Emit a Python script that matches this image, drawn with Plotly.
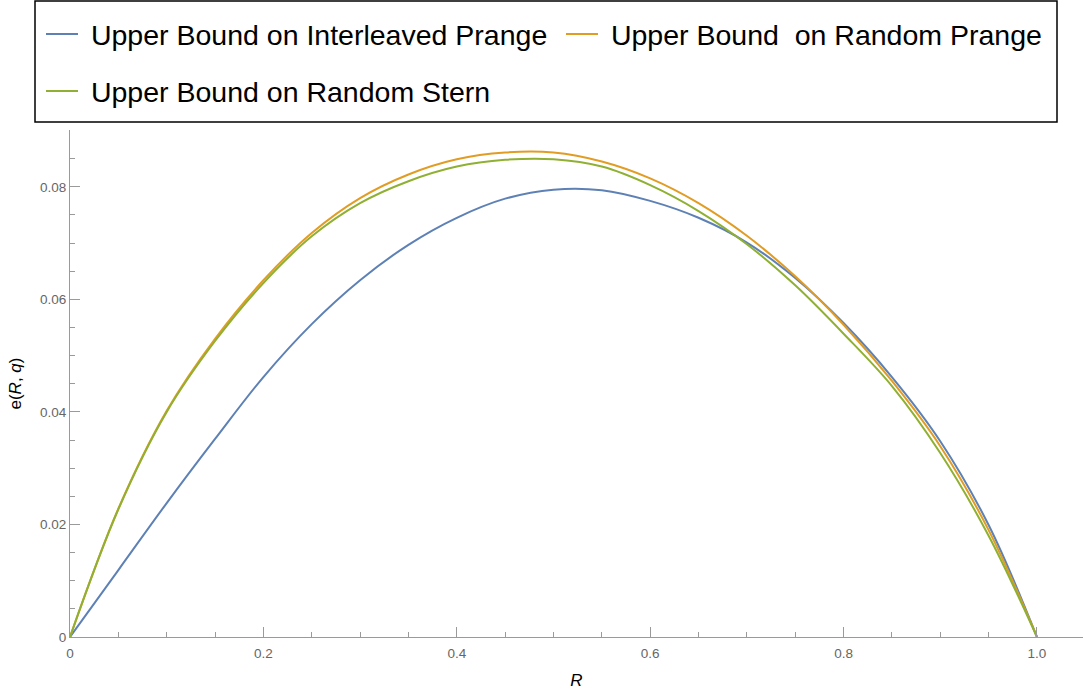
import plotly.graph_objects as go

# ---- data ----
R = [0, 0.05, 0.1, 0.15, 0.2, 0.25, 0.3, 0.35, 0.4, 0.45, 0.5, 0.55,
     0.6, 0.65, 0.7, 0.75, 0.8, 0.85, 0.9, 0.95, 1.0]
interleaved_prange = [0, 0.0119, 0.0238, 0.0352, 0.0462, 0.0556, 0.0634, 0.0697,
                      0.0745, 0.0779, 0.0795, 0.0794, 0.0775, 0.0745, 0.0701,
                      0.0638, 0.0558, 0.0462, 0.0348, 0.0199, 0]
random_prange = [0, 0.0228, 0.0402, 0.0530, 0.0634, 0.0718, 0.0780, 0.0822,
                 0.0849, 0.0861, 0.0861, 0.0845, 0.0815, 0.0771, 0.0713,
                 0.0641, 0.0555, 0.0455, 0.0339, 0.0190, 0]
random_stern = [0, 0.0227, 0.0400, 0.0526, 0.0629, 0.0712, 0.0771, 0.0810,
                0.0836, 0.0848, 0.0849, 0.0836, 0.0803, 0.0757, 0.0698,
                0.0625, 0.0539, 0.0446, 0.0327, 0.0180, 0]

names = ["\u00a0Upper Bound on Interleaved Prange",
         "\u00a0Upper Bound\u00a0 on Random Prange",
         "\u00a0Upper Bound on Random Stern"]
colors = ["#5E81B5", "#E19C24", "#8FB032"]
series = [interleaved_prange, random_prange, random_stern]
legends = ["legend", "legend2", "legend3"]

x_tickvals = [0, 0.2, 0.4, 0.6, 0.8, 1.0]
x_ticktext = ["0", "0.2", "0.4", "0.6", "0.8", "1.0"]
y_tickvals = [0, 0.02, 0.04, 0.06, 0.08]
y_ticktext = ["0", "0.02", "0.04", "0.06", "0.08"]

FONT = "Liberation Sans, Arial, sans-serif"
W, H = 1083, 690
ML, MR, MT, MB = 70, 0, 130, 53

fig = go.Figure()
for name, col, ys, lg in zip(names, colors, series, legends):
    fig.add_trace(go.Scatter(x=R, y=ys, mode="lines", name=name,
                             line=dict(color=col, width=2, shape="spline", smoothing=1.0),
                             legend=lg))

axis_common = dict(showgrid=False, zeroline=False, showline=True,
                   linecolor="#9a9a9a", linewidth=1,
                   ticks="inside", ticklen=10, tickcolor="#9a9a9a", tickwidth=1,
                   tickfont=dict(family=FONT, size=13.5, color="#666666"),
                   automargin=True)

fig.update_xaxes(range=[0, 1.0476], tickvals=x_tickvals, ticktext=x_ticktext,
                 ticklabelstandoff=4,
                 minor=dict(ticks="inside", ticklen=5, dtick=0.05, tick0=0,
                            tickcolor="#9a9a9a", tickwidth=1),
                 title=dict(text="<i>R</i>", font=dict(family=FONT, size=17, color="black"),
                            standoff=14),
                 **axis_common)
fig.update_yaxes(range=[0, 0.0901], tickvals=y_tickvals, ticktext=y_ticktext,
                 minor=dict(ticks="inside", ticklen=5, dtick=0.005, tick0=0,
                            tickcolor="#9a9a9a", tickwidth=1),
                 title=dict(text="e(<i>R</i>, <i>q</i>)", font=dict(family=FONT, size=17, color="black"),
                            standoff=14),
                 **axis_common)

leg_font = dict(family=FONT, size=28.5, color="black")
leg_common = dict(orientation="h", xref="container", yref="container",
                  xanchor="left", yanchor="top", bgcolor="rgba(0,0,0,0)",
                  borderwidth=0, font=leg_font, itemwidth=32)

pw = W - ML - MR
ph = H - MT - MB
fig.update_layout(
    width=W, height=H,
    margin=dict(l=ML, r=MR, t=MT, b=MB, autoexpand=False),
    plot_bgcolor="white", paper_bgcolor="white",
    font=dict(family=FONT),
    showlegend=True,
    legend=dict(x=41 / W, y=1 - 9 / H, **leg_common),
    legend2=dict(x=561 / W, y=1 - 9 / H, **leg_common),
    legend3=dict(x=41 / W, y=1 - 66 / H, **leg_common),
    shapes=[dict(type="rect", xref="paper", yref="paper",
                 x0=(35 - ML) / pw, x1=(1057 - ML) / pw,
                 y0=(H - MB - 122) / ph, y1=(H - MB - 1) / ph,
                 line=dict(color="black", width=1.5), fillcolor="rgba(0,0,0,0)",
                 layer="above")],
)

fig.write_html("out.html", config={"displayModeBar": False},
               post_script="document.body.style.margin='0px';document.body.style.overflow='hidden';")
